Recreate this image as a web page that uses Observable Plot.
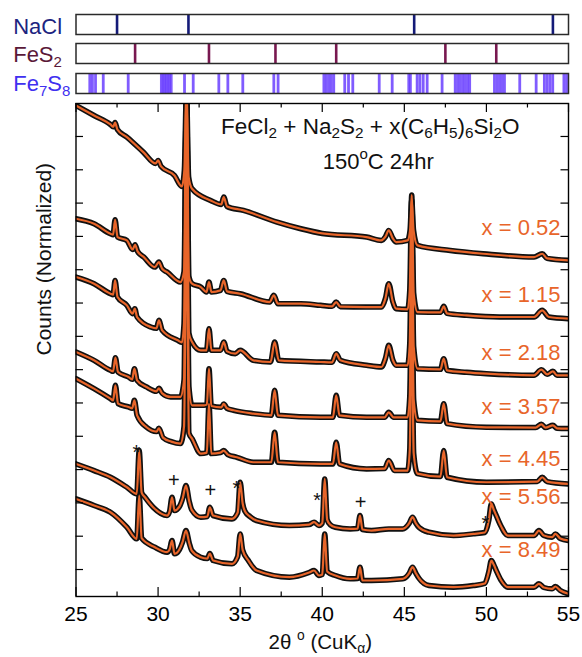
<!DOCTYPE html>
<html><head><meta charset="utf-8">
<script src="https://cdn.jsdelivr.net/npm/d3@7"></script>
<script src="https://cdn.jsdelivr.net/npm/@observablehq/plot@0.6"></script>
<style>
body{margin:0;background:#fff;}
#chart{width:582px;font-family:"Liberation Sans",Arial,sans-serif;}
#chart svg{display:block;}
</style></head><body><div id="chart"></div>
<script>
// ---- data ----
const xDomain = [25, 55];
const xTickLabels = [25, 30, 35, 40, 45, 50, 55];
const xMinorTicks = [27.5, 32.5, 37.5, 42.5, 47.5, 52.5];
const yTicks = [0.81,1.81,2.81,3.81,4.81,5.81,6.81,7.81,8.81,9.81,10.81,11.81,12.81,13.81];

const naclLines = [27.5, 31.85, 45.6, 54.05];
const fes2Lines = [28.6, 33.1, 37.15, 40.85, 47.5, 50.6];
const fe7s8Lines = [25.84,26.0,26.19,26.66,28.18,30.2,30.3,30.4,30.5,30.6,30.7,30.8,31.61,32.14,33.7,34.25,35.16,37.05,37.31,
  40.1,40.25,40.4,40.55,40.7,41.37,41.6,41.86,43.47,44.26,45.27,45.37,45.78,45.95,46.15,46.39,47.3,
  48.1,48.25,48.4,48.55,48.7,48.85,48.98,50.49,50.65,50.8,50.95,51.1,52.03,53.03,53.53,53.7,53.87,54.04,54.72,54.88];

const seriesNames = ["x = 0.52","x = 1.15","x = 2.18","x = 3.57","x = 4.45","x = 5.56","x = 8.49"];

const p052 = [[25.0,14.74],[26.1,14.44],[27.1,14.17],[27.27,14.1],[27.38,14.23],[27.52,14.02],[28.1,13.79],[29.1,13.34],[29.85,13.0],[30.0,13.09],[30.18,12.91],[31.0,12.64],[31.45,12.31],[31.6,12.8],[31.73,15.2],[31.86,12.6],[32.07,12.24],[33.2,11.89],[33.85,11.77],[34.0,11.99],[34.2,11.71],[35.2,11.59],[37.25,11.24],[38.7,11.04],[40.0,10.9],[42.7,10.79],[43.6,10.69],[43.85,10.8],[44.05,10.99],[44.3,10.75],[44.5,10.64],[45.2,10.69],[45.35,11.0],[45.45,11.9],[45.56,11.0],[45.8,10.54],[47.8,10.39],[49.8,10.29],[52.9,10.19],[53.4,10.29],[53.7,10.15],[55.0,10.09]];
const p115 = [[25.0,11.34],[26.1,11.19],[27.1,10.89],[27.26,10.86],[27.38,11.31],[27.53,10.79],[28.1,10.69],[28.45,10.42],[28.6,10.56],[28.75,10.36],[29.13,10.19],[29.8,9.89],[30.05,10.04],[30.25,9.84],[30.55,9.74],[31.36,9.44],[31.58,9.75],[31.73,15.2],[31.88,9.6],[32.07,9.39],[32.6,9.29],[32.95,9.14],[33.1,9.44],[33.25,9.14],[33.8,9.19],[34.0,9.49],[34.2,9.16],[35.0,9.09],[36.8,8.84],[37.05,9.04],[37.3,8.79],[38.7,8.79],[39.9,8.74],[40.6,8.71],[40.85,8.84],[41.1,8.7],[42.7,8.69],[43.6,8.69],[43.85,8.95],[44.05,9.39],[44.3,8.85],[44.5,8.64],[45.2,8.62],[45.33,9.2],[45.45,12.05],[45.57,9.1],[45.8,8.54],[47.2,8.53],[47.4,8.71],[47.6,8.5],[48.8,8.44],[50.8,8.39],[52.9,8.39],[53.4,8.59],[53.8,8.39],[55.0,8.34]];
const p218 = [[25.0,9.59],[26.1,9.39],[27.1,9.09],[27.26,9.06],[27.38,9.49],[27.53,8.99],[28.1,8.74],[28.45,8.49],[28.58,8.64],[28.72,8.39],[29.55,8.09],[29.9,8.05],[30.05,8.29],[30.25,7.99],[31.2,7.69],[31.45,7.63],[31.58,8.2],[31.73,15.2],[31.88,7.9],[32.07,7.64],[32.6,7.39],[32.95,7.39],[33.1,8.04],[33.25,7.39],[33.8,7.39],[34.0,7.64],[34.2,7.36],[34.7,7.29],[35.0,7.39],[35.8,7.09],[36.85,7.04],[37.1,7.64],[37.35,7.09],[39.9,7.04],[40.6,7.03],[40.85,7.29],[41.1,7.09],[42.7,6.94],[43.6,6.89],[43.85,7.15],[44.05,7.54],[44.3,7.1],[44.5,6.94],[45.2,6.94],[45.33,7.6],[45.45,11.1],[45.57,7.5],[45.8,6.84],[47.2,6.82],[47.4,7.14],[47.6,6.79],[48.8,6.73],[50.0,6.69],[52.9,6.64],[53.35,6.81],[53.7,6.67],[54.05,6.76],[54.3,6.64],[55.0,6.64]];
const p357 = [[25.0,7.34],[26.1,7.09],[27.1,6.79],[27.26,6.76],[27.4,7.17],[27.56,6.74],[28.2,6.59],[28.42,6.52],[28.56,6.84],[28.72,6.49],[29.3,6.29],[29.9,6.16],[30.05,6.25],[30.25,6.1],[30.76,5.99],[31.36,5.99],[31.58,6.5],[31.73,13.2],[31.88,6.3],[32.07,5.74],[32.8,5.74],[32.97,5.76],[33.1,6.84],[33.24,5.72],[33.85,5.68],[34.0,5.78],[34.2,5.65],[34.6,5.59],[35.8,5.49],[36.9,5.44],[37.1,6.19],[37.3,5.44],[39.9,5.38],[40.65,5.38],[40.85,6.04],[41.05,5.44],[42.7,5.38],[43.8,5.38],[44.05,5.53],[44.35,5.38],[45.2,5.38],[45.33,6.0],[45.45,9.6],[45.57,5.9],[45.8,5.29],[47.2,5.26],[47.4,5.79],[47.6,5.19],[50.0,5.08],[53.0,5.07],[53.35,5.17],[53.6,5.07],[54.05,5.14],[54.3,5.05],[55.0,5.04]];
const p445 = [[25.0,6.54],[26.1,6.24],[27.1,5.94],[27.26,5.89],[27.4,6.34],[27.56,5.79],[28.2,5.69],[28.42,5.65],[28.56,5.89],[28.72,5.44],[29.3,5.08],[29.9,4.95],[30.05,5.05],[30.3,4.77],[30.8,4.65],[31.36,4.59],[31.58,5.1],[31.73,11.2],[31.88,4.9],[32.07,4.74],[32.6,4.29],[32.97,4.32],[33.1,5.79],[33.24,4.29],[33.8,4.32],[34.0,4.38],[34.25,4.26],[34.8,4.18],[35.8,4.03],[36.9,4.03],[37.1,4.93],[37.3,4.03],[39.9,3.98],[40.65,3.98],[40.85,4.63],[41.05,3.98],[42.7,3.83],[43.8,3.84],[44.05,4.08],[44.4,3.78],[45.2,3.78],[45.33,4.4],[45.45,8.2],[45.57,4.3],[45.8,3.69],[47.2,3.6],[47.4,4.38],[47.6,3.58],[50.0,3.43],[53.1,3.45],[53.4,3.58],[53.7,3.45],[55.0,3.38]];
const p556 = [[25.0,3.98],[26.1,3.78],[27.1,3.58],[28.1,3.28],[28.7,3.08],[28.85,4.38],[29.0,3.12],[29.2,2.98],[29.7,2.68],[30.55,2.43],[30.7,2.55],[30.85,2.98],[31.0,2.58],[31.3,2.7],[31.5,2.95],[31.7,3.33],[31.9,2.85],[32.05,2.6],[32.6,2.38],[33.0,2.4],[33.15,2.68],[33.35,2.43],[34.5,2.33],[34.85,2.52],[35.0,3.43],[35.15,2.8],[35.3,2.55],[35.6,2.4],[36.0,2.28],[38.0,2.13],[39.2,2.16],[39.5,2.23],[39.8,2.13],[40.0,2.2],[40.15,3.53],[40.3,2.3],[40.5,2.15],[40.8,2.08],[41.7,2.03],[42.15,2.04],[42.3,2.43],[42.45,2.01],[43.0,1.98],[44.05,2.03],[44.9,2.03],[45.3,2.2],[45.5,2.38],[45.7,2.2],[45.9,2.07],[46.5,1.93],[48.0,1.83],[49.2,1.88],[49.9,1.92],[50.15,2.3],[50.3,2.78],[50.45,2.6],[50.6,2.43],[50.9,2.1],[51.3,1.83],[52.9,1.83],[53.2,1.98],[53.5,1.83],[54.0,1.78],[54.2,1.88],[54.5,1.74],[55.0,1.68]];
const p849 = [[25.0,2.93],[26.1,2.73],[27.1,2.53],[28.1,2.08],[28.7,1.73],[28.85,3.03],[29.0,1.75],[29.8,1.48],[30.55,1.33],[30.7,1.41],[30.85,1.68],[31.0,1.28],[31.3,1.41],[31.5,1.65],[31.7,1.98],[31.9,1.6],[32.05,1.38],[32.6,1.18],[33.0,1.14],[33.15,1.29],[33.35,1.08],[34.5,0.98],[34.85,1.2],[35.0,1.88],[35.15,1.4],[35.5,1.08],[36.0,0.78],[38.0,0.58],[39.2,0.72],[39.5,0.78],[39.8,0.63],[40.0,0.66],[40.15,1.88],[40.3,0.75],[40.8,0.63],[41.7,0.53],[42.15,0.54],[42.3,0.88],[42.45,0.48],[43.0,0.48],[44.9,0.53],[45.3,0.7],[45.5,0.88],[45.7,0.7],[45.9,0.54],[46.5,0.33],[48.0,0.28],[49.2,0.33],[49.9,0.39],[50.15,0.75],[50.3,1.08],[50.45,0.95],[50.6,0.78],[50.9,0.48],[51.3,0.28],[52.9,0.28],[53.2,0.38],[53.5,0.27],[54.0,0.23],[54.2,0.3],[54.5,0.18],[55.0,0.08]];

const seriesValues = [p052, p115, p218, p357, p445, p556, p849];

// label placement (data coordinates) for the series names and phase markers
const seriesLabelAnchors = [[54.51,10.84],[54.51,8.84],[54.51,7.09],[54.51,5.49],[54.51,3.93],[54.51,2.78],[54.51,1.18]];
const phaseMarkers = [["*",28.68,4.65],["+",30.96,3.48],["+",33.19,3.18],["*",34.77,3.58],["*",39.69,3.2],["+",42.33,2.83],["*",49.94,2.53]];

// ---- build ----
const ORANGE = "#e8652a";
const FONT = "'Liberation Sans', Arial, Helvetica, sans-serif";
const pts = [];
seriesValues.forEach((arr, i) => arr.forEach(([x, y]) => pts.push({s: seriesNames[i], x, y})));
const labels = seriesNames.map((t, i) => ({t, x: seriesLabelAnchors[i][0], y: seriesLabelAnchors[i][1]}));
const markers = phaseMarkers.map(([t, x, y]) => ({t, x, y}));

const W = 582, ML = 75.5, MR = 14;
const baseStyle = {fontFamily: FONT, fontSize: "21px", background: "transparent", overflow: "visible", color: "black"};

function strip(lines, color, label, labelColor, opts) {
  return Plot.plot({
    width: W, height: opts.height, marginTop: opts.top, marginBottom: opts.bottom, marginLeft: ML, marginRight: MR,
    style: baseStyle,
    x: {domain: xDomain, axis: null},
    y: {axis: null, domain: [0, 1]},
    marks: [
      Plot.ruleX(lines, {x: d => d, stroke: color, strokeWidth: opts.sw, strokeOpacity: opts.op ?? 1}),
      Plot.frame({stroke: "#2a2a2a", strokeWidth: 1.5}),
      Plot.text([label], {text: d => d, frameAnchor: "bottom-left", dx: -62.8, dy: opts.dy, textAnchor: "start", lineAnchor: "bottom", fill: labelColor, fontSize: 22})
    ]
  });
}

const s1 = strip(naclLines, "#141a78", "NaCl", "#1c2480", {height: 38, top: 14, bottom: 4, sw: 2.6, dy: -1});
const s2 = strip(fes2Lines, "#781850", "FeS_{2}", "#5a1838", {height: 29, top: 5, bottom: 4, sw: 2.6, dy: -2});
const s3 = strip(fe7s8Lines, "#6a40ff", "Fe_{7}S_{8}", "#4030f0", {height: 30, top: 6, bottom: 4, sw: 2.8, op: 0.85, dy: -3});

const plotH = 493, plotW = W - ML - MR;
const main = Plot.plot({
  width: W, height: 560, marginTop: 6, marginBottom: 61, marginLeft: ML, marginRight: MR,
  style: baseStyle,
  x: {domain: xDomain},
  y: {domain: [0, 14.8], axis: null},
  marks: [
    Plot.line(pts, {x: "x", y: "y", z: "s", stroke: "#111", strokeWidth: 5.5, curve: "monotone-x", clip: true, strokeLinejoin: "round"}),
    Plot.line(pts, {x: "x", y: "y", z: "s", stroke: ORANGE, strokeWidth: 2.2, curve: "monotone-x", clip: true}),
    Plot.text(labels, {x: "x", y: "y", text: "t", textAnchor: "end", lineAnchor: "bottom", fill: ORANGE, fontSize: 22}),
    Plot.text(markers, {x: "x", y: "y", text: "t", fill: "#111", fontSize: 20, lineAnchor: "middle"}),
    // inward ticks
    Plot.tickX(xTickLabels, {x: d => d, insetTop: plotH - 9, stroke: "black", strokeWidth: 1.2}),
    Plot.tickX(xMinorTicks, {x: d => d, insetTop: plotH - 4.5, stroke: "black", strokeWidth: 1.2}),
    Plot.tickX(xTickLabels, {x: d => d, insetBottom: plotH - 9, stroke: "black", strokeWidth: 1.2}),
    Plot.tickX(xMinorTicks, {x: d => d, insetBottom: plotH - 4.5, stroke: "black", strokeWidth: 1.2}),
    Plot.tickY(yTicks, {y: d => d, insetRight: plotW - 7.5, stroke: "black", strokeWidth: 1.2}),
    Plot.tickY(yTicks, {y: d => d, insetLeft: plotW - 7.5, stroke: "black", strokeWidth: 1.2}),
    Plot.frame({stroke: "black", strokeWidth: 1.4}),
    Plot.axisX({ticks: xTickLabels, tickSize: 0, tickPadding: 10, fontSize: 21, label: null, tickFormat: d => String(d)}),
    Plot.text(["FeCl_{2} + Na_{2}S_{2} + x(C_{6}H_{5})_{6}Si_{2}O"], {text: d => d, frameAnchor: "top", dx: 48, dy: 30, lineAnchor: "bottom", fontSize: 22.5, fill: "#111"}),
    Plot.text(["150^{o}C 24hr"], {text: d => d, frameAnchor: "top", dx: 56, dy: 65, lineAnchor: "bottom", fontSize: 22, fill: "#111"}),
    Plot.text(["Counts (Normalized)"], {text: d => d, frameAnchor: "left", rotate: -90, dx: -31.5, dy: 5.5, fontSize: 21, lineAnchor: "middle", fill: "#111"}),
    Plot.text(["2θ ^{o} (CuK_{α})"], {text: d => d, frameAnchor: "bottom", dx: -2, dy: 52, lineAnchor: "bottom", fontSize: 20.5, fill: "#111"})
  ]
});

// asterisk glyph sits high: lower it to centre it on its anchor
d3.select(main).selectAll("text").filter(function(){ return this.textContent === "*"; }).attr("dy", "0.55em");

// rich text: _{sub} and ^{sup}
function richText(root, subShift) {
  root.querySelectorAll("text").forEach(t => {
    const s = t.textContent;
    if (!/[_^]\{/.test(s)) return;
    const fs = parseFloat(getComputedStyle(t).fontSize) || parseFloat(t.getAttribute("font-size")) || 21;
    while (t.firstChild) t.removeChild(t.firstChild);
    const re = /([_^])\{([^}]*)\}/g;
    let last = 0, m, shift = 0;
    const add = (str, kind) => {
      if (!str) return;
      const ts = document.createElementNS("http://www.w3.org/2000/svg", "tspan");
      const target = kind === "_" ? subShift * fs : kind === "^" ? -0.42 * fs : 0;
      ts.setAttribute("dy", (target - shift).toFixed(2));
      shift = target;
      if (kind) ts.setAttribute("font-size", (0.68 * fs).toFixed(1));
      ts.textContent = str;
      t.appendChild(ts);
    };
    while ((m = re.exec(s))) { add(s.slice(last, m.index), null); add(m[2], m[1]); last = re.lastIndex; }
    add(s.slice(last), null);
  });
}

const chart = document.getElementById("chart");
[s1, s2, s3].forEach(svg => { chart.appendChild(svg); richText(svg, 0.26); });
chart.appendChild(main); richText(main, 0.22);
</script>
</body></html>
